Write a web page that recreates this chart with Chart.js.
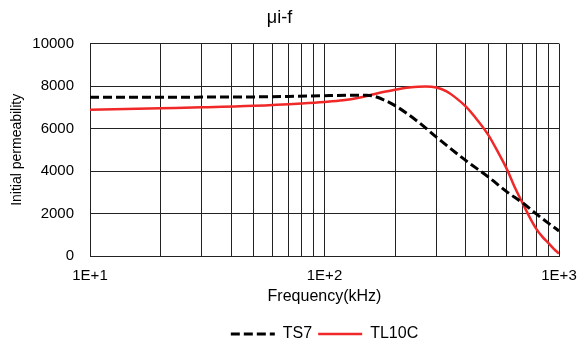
<!DOCTYPE html>
<html>
<head>
<meta charset="utf-8">
<script src="https://cdn.jsdelivr.net/npm/chart.js@4.4.0/dist/chart.umd.min.js"></script>
<style>
  html, body { margin: 0; padding: 0; background: #fff; }
</style>
</head>
<body>
<canvas id="chart" width="582" height="339"></canvas>
<script>
// x grid lines (kHz), log scale
const freqTicks = [10, 20, 30, 40, 50, 60, 70, 80, 90,
  100, 200, 300, 400, 500, 600, 700, 800, 900, 1000];
const freqLabels = { 10: "1E+1", 100: "1E+2", 1000: "1E+3" };

// TS7 (black dashed)
const ts7Freq = [10, 20, 30, 50, 70, 100, 130, 150, 160, 180, 200, 250, 300, 400, 500, 600, 700, 800, 900, 1000];
const ts7Mu   = [7470, 7470, 7480, 7490, 7510, 7550, 7570, 7565, 7540, 7340, 7080, 6330, 5600, 4500, 3720, 3020, 2500, 1980, 1550, 1180];

// TL10C (red)
const tl10cFreq = [10, 20, 30, 50, 80, 100, 120, 140, 160, 180, 200, 230, 270, 300, 330, 360, 400, 450, 500, 550, 600, 650, 700, 750, 800, 850, 900, 950, 1000];
const tl10cMu   = [6890, 6960, 7000, 7070, 7180, 7250, 7330, 7450, 7600, 7730, 7830, 7930, 7980, 7930, 7760, 7480, 7040, 6380, 5690, 4880, 4080, 3200, 2480, 1820, 1280, 900, 620, 340, 120];

Chart.defaults.font.family = "'Liberation Sans', Arial, sans-serif";
Chart.defaults.color = "#000";

const toPoints = (xs, ys) => xs.map((x, i) => ({ x: x, y: ys[i] }));

// legend sits closer to the bottom edge than Chart.js would place it
const legendTrim = {
  id: "legendTrim",
  beforeLayout(chart) {
    const lg = chart.legend;
    if (lg && !lg._trimmed) {
      const fit = lg.fit;
      lg.fit = function () { fit.call(this); this.height -= 13; };
      lg._trimmed = true;
    }
  }
};

new Chart(document.getElementById("chart"), {
  type: "line",
  data: {
    datasets: [
      {
        label: "TS7",
        data: toPoints(ts7Freq, ts7Mu),
        borderColor: "#000",
        borderWidth: 3,
        borderDash: [9, 4],
        pointRadius: 0,
        cubicInterpolationMode: "monotone",
        fill: false
      },
      {
        label: "TL10C",
        data: toPoints(tl10cFreq, tl10cMu),
        borderColor: "#f02828",
        borderWidth: 2.5,
        pointRadius: 0,
        cubicInterpolationMode: "monotone",
        fill: false
      }
    ]
  },
  plugins: [legendTrim],
  options: {
    responsive: false,
    devicePixelRatio: 1,
    animation: false,
    layout: { padding: { left: 0, right: 23, top: 0, bottom: 0 } },
    plugins: {
      title: {
        display: true,
        text: "μi-f",
        font: { size: 18, weight: "normal" },
        padding: { top: 7, bottom: 15 }
      },
      legend: {
        position: "bottom",
        fullSize: false,
        labels: {
          usePointStyle: true,
          pointStyleWidth: 44,
          padding: 6,
          font: { size: 16 },
          generateLabels: chart => chart.data.datasets.map((ds, i) => ({
            text: ds.label,
            fillStyle: ds.borderColor,
            strokeStyle: ds.borderColor,
            lineWidth: ds.borderWidth,
            lineDash: ds.borderDash || [],
            pointStyle: "line",
            fontColor: "#000",
            hidden: false,
            datasetIndex: i
          }))
        }
      },
      tooltip: { enabled: false }
    },
    scales: {
      x: {
        type: "logarithmic",
        min: 10,
        max: 1000,
        afterBuildTicks: scale => { scale.ticks = freqTicks.map(v => ({ value: v })); },
        afterFit: scale => {
          scale.height = 64;
          scale.paddingLeft = 0;
          scale.paddingRight = 0;
        },
        ticks: {
          autoSkip: false,
          maxRotation: 0,
          padding: 11,
          font: { size: 15 },
          callback: v => freqLabels[v] || ""
        },
        grid: { color: "#222", drawTicks: false },
        border: { color: "#222" },
        title: {
          display: true,
          text: "Frequency(kHz)",
          font: { size: 16 },
          padding: { top: 2, bottom: 14 }
        }
      },
      y: {
        min: 0,
        max: 10000,
        ticks: { stepSize: 2000, padding: 16, font: { size: 15 }, callback: v => String(v) },
        grid: { color: "#222", drawTicks: false },
        border: { color: "#222" },
        afterFit: scale => { scale.width = 90; },
        title: {
          display: true,
          text: "Initial permeability",
          font: { size: 14 },
          padding: { top: 9, bottom: 0 }
        }
      }
    }
  }
});
</script>
</body>
</html>
